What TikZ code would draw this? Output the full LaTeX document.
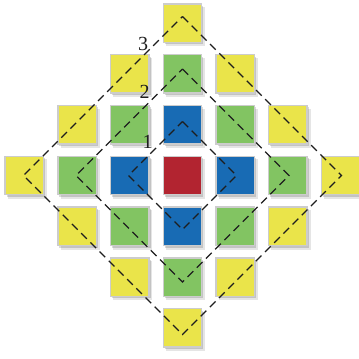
\documentclass[tikz,border=0pt]{standalone}
\usepackage{fontspec}
\setmainfont{Liberation Serif}
\usetikzlibrary{shadows}
\definecolor{cyel}{RGB}{234,228,74}
\definecolor{cgreen}{RGB}{130,196,98}
\definecolor{cblue}{RGB}{24,107,180}
\definecolor{cred}{RGB}{178,36,48}
\definecolor{cborder}{RGB}{204,204,204}
\definecolor{cline}{RGB}{30,30,30}
\begin{document}
\begin{tikzpicture}[x=1pt,y=-1pt,
  cell/.style={draw=cborder, line width=1.4pt, minimum size=38.5pt, inner sep=0pt,
    general shadow={shadow xshift=3pt, shadow yshift=-3.5pt, shadow scale=1.02, opacity=0.10, fill=black},
    general shadow={shadow xshift=1.6pt, shadow yshift=-2pt, opacity=0.15, fill=black}},
  ring/.style={dash pattern=on 8pt off 5pt, line width=1.4pt, draw=cline},
  lab/.style={font=\fontsize{20}{20}\selectfont, inner sep=0pt, text=cline}]
\useasboundingbox (0,0) rectangle (359,359);
\foreach \i in {-3,...,3} {
  \foreach \j in {-3,...,3} {
    \pgfmathtruncatemacro\d{abs(\i)+abs(\j)}
    \ifnum\d<4
      \ifcase\d \def\col{cred}\or \def\col{cblue}\or \def\col{cgreen}\or \def\col{cyel}\fi
      \node[cell, fill=\col] (s\i\j) at ({182.5+52.7*\i},{175.5+50.8*\j}) {};
    \fi
  }
}
\foreach \k in {1,2,3} {
  \pgfmathsetmacro\r{52.5*\k+1.5}
  \coordinate (t\k) at (182.5,{175.5-\r});
  \coordinate (r\k) at ({182.5+\r},175.5);
  \coordinate (b\k) at (182.5,{175.5+\r});
  \coordinate (l\k) at ({182.5-\r},175.5);
  \draw[ring] (t\k) -- (r\k) -- (b\k) -- (l\k) -- cycle;
}
\node[lab] (n1) at (147.5,141.5) {1};
\node[lab] (n2) at (144.5,91.5) {2};
\node[lab] (n3) at (143,44) {3};
\end{tikzpicture}
\end{document}
